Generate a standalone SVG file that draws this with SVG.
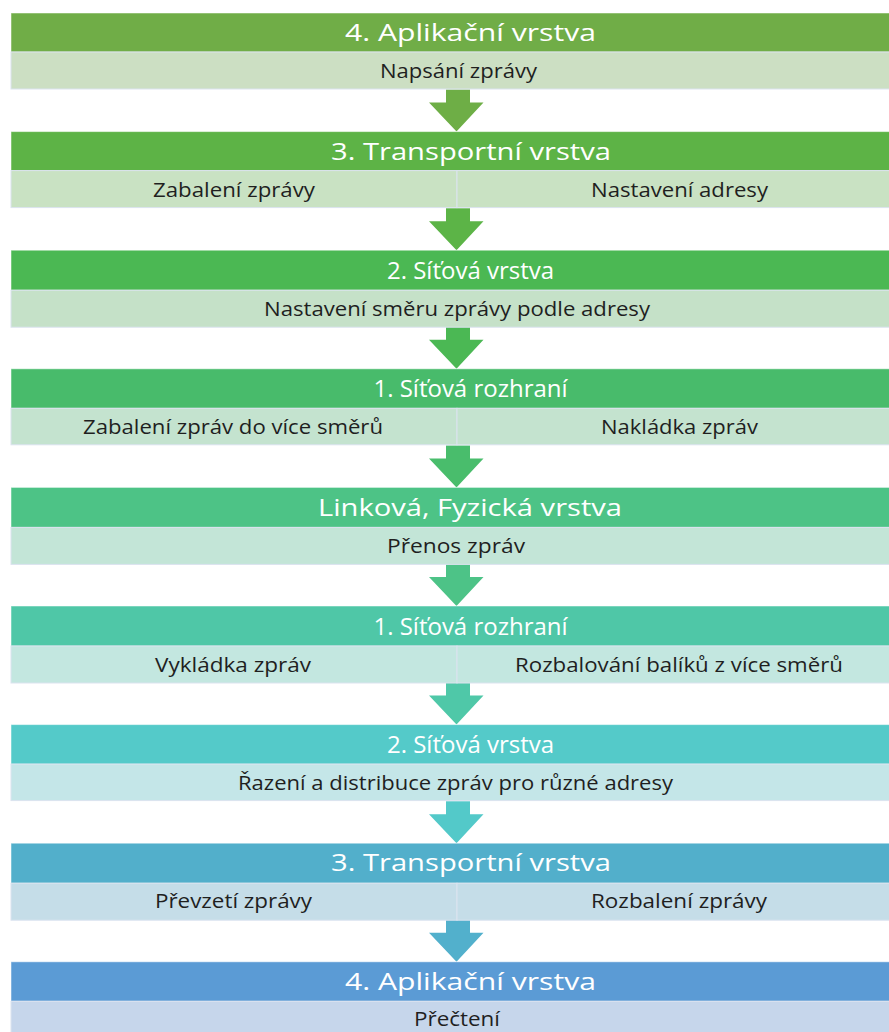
<svg xmlns="http://www.w3.org/2000/svg" width="889" height="1032" viewBox="0 0 889 1032">
  <style>
    .hd { stroke: #ffffff; stroke-opacity: 0.5; stroke-width: 1; }
    .sb { stroke: #dbe3ef; stroke-width: 1; }
    .ht { font-family: "Open Sans", "Noto Sans", sans-serif; font-size: 24px; fill: #ffffff; text-anchor: middle; }
    .st { font-family: "Open Sans", "Noto Sans", sans-serif; font-size: 20px; fill: #1f1f1f; text-anchor: middle; }
  </style>
  <defs>
    <!-- down arrow, tip at (0,0) -->
    <path id="arrow" d="M -10.5 -29 L -10.5 -42 L 13.5 -42 L 13.5 -29 L 27 -29 L 0 0 L -27.5 -29 Z"/>
  </defs>
  <rect width="889" height="1032" fill="#ffffff"/>

  <!-- connectors between layers -->
  <g id="connectors">
    <use href="#arrow" x="456.5" y="131.6" fill="#6eae46"/>
    <use href="#arrow" x="456.5" y="250.2" fill="#5cb447"/>
    <use href="#arrow" x="456.5" y="368.8" fill="#4bb854"/>
    <use href="#arrow" x="456.5" y="487.4" fill="#49bd6c"/>
    <use href="#arrow" x="456.5" y="606" fill="#4dc387"/>
    <use href="#arrow" x="456.5" y="724.6" fill="#4fc8a8"/>
    <use href="#arrow" x="456.5" y="843.2" fill="#53c9c9"/>
    <use href="#arrow" x="456.5" y="961.8" fill="#52b0cc"/>
  </g>

  <g id="layer-app-send">
    <rect class="hd" x="11" y="13" width="920" height="39" fill="#70ad47"/>
    <rect class="sb" x="11" y="52" width="892" height="37" fill="#ccdfc3"/>
    <text class="ht" x="470.5" y="41" textLength="251" lengthAdjust="spacingAndGlyphs">4. Aplikační vrstva</text>
    <text class="st" x="458.5" y="78" textLength="157" lengthAdjust="spacingAndGlyphs">Napsání zprávy</text>
  </g>

  <g id="layer-transport-send">
    <rect class="hd" x="11" y="131.6" width="920" height="39" fill="#5db346"/>
    <rect class="sb" x="11" y="170.6" width="446" height="37" fill="#c9e2c3"/>
    <rect class="sb" x="457" y="170.6" width="446" height="37" fill="#c9e2c3"/>
    <text class="ht" x="471" y="159.6" textLength="280" lengthAdjust="spacingAndGlyphs">3. Transportní vrstva</text>
    <text class="st" x="234" y="196.6" textLength="162" lengthAdjust="spacingAndGlyphs">Zabalení zprávy</text>
    <text class="st" x="679.5" y="196.6" textLength="177" lengthAdjust="spacingAndGlyphs">Nastavení adresy</text>
  </g>

  <g id="layer-network-send">
    <rect class="hd" x="11" y="250.2" width="920" height="40" fill="#4bb853"/>
    <rect class="sb" x="11" y="290.2" width="892" height="37" fill="#c5e1c8"/>
    <text class="ht" x="470.5" y="278.7">2. Síťová vrstva</text>
    <text class="st" x="457" y="315.7" textLength="386" lengthAdjust="spacingAndGlyphs">Nastavení směru zprávy podle adresy</text>
  </g>

  <g id="layer-interface-send">
    <rect class="hd" x="11" y="368.8" width="920" height="39.5" fill="#48bb6b"/>
    <rect class="sb" x="11" y="408.3" width="446" height="36.5" fill="#c4e3cf"/>
    <rect class="sb" x="457" y="408.3" width="446" height="36.5" fill="#c4e3cf"/>
    <text class="ht" x="470.5" y="396.8">1. Síťová rozhraní</text>
    <text class="st" x="233" y="433.8" textLength="300" lengthAdjust="spacingAndGlyphs">Zabalení zpráv do více směrů</text>
    <text class="st" x="679.5" y="433.8" textLength="157" lengthAdjust="spacingAndGlyphs">Nakládka zpráv</text>
  </g>

  <g id="layer-link-physical">
    <rect class="hd" x="11" y="487.4" width="920" height="40" fill="#4dc386"/>
    <rect class="sb" x="11" y="527.4" width="892" height="37" fill="#c3e5d7"/>
    <text class="ht" x="470" y="515.9" textLength="304" lengthAdjust="spacingAndGlyphs">Linková, Fyzická vrstva</text>
    <text class="st" x="456" y="552.9" textLength="138" lengthAdjust="spacingAndGlyphs">Přenos zpráv</text>
  </g>

  <g id="layer-interface-receive">
    <rect class="hd" x="11" y="606" width="920" height="40" fill="#4fc7a7"/>
    <rect class="sb" x="11" y="646" width="446" height="37" fill="#c3e7e0"/>
    <rect class="sb" x="457" y="646" width="446" height="37" fill="#c3e7e0"/>
    <text class="ht" x="470.5" y="634.5">1. Síťová rozhraní</text>
    <text class="st" x="233" y="671.5" textLength="156" lengthAdjust="spacingAndGlyphs">Vykládka zpráv</text>
    <text class="st" x="679" y="671.5" textLength="328" lengthAdjust="spacingAndGlyphs">Rozbalování balíků z více směrů</text>
  </g>

  <g id="layer-network-receive">
    <rect class="hd" x="11" y="724.6" width="920" height="39.5" fill="#54cac9"/>
    <rect class="sb" x="11" y="764.1" width="892" height="36.5" fill="#c4e6e8"/>
    <text class="ht" x="470.5" y="752.6">2. Síťová vrstva</text>
    <text class="st" x="455.5" y="789.6" textLength="435" lengthAdjust="spacingAndGlyphs">Řazení a distribuce zpráv pro různé adresy</text>
  </g>

  <g id="layer-transport-receive">
    <rect class="hd" x="11" y="843.2" width="920" height="40" fill="#52afcb"/>
    <rect class="sb" x="11" y="883.2" width="446" height="37" fill="#c5dde8"/>
    <rect class="sb" x="457" y="883.2" width="446" height="37" fill="#c5dde8"/>
    <text class="ht" x="471" y="871.2" textLength="280" lengthAdjust="spacingAndGlyphs">3. Transportní vrstva</text>
    <text class="st" x="233.5" y="908.2" textLength="157" lengthAdjust="spacingAndGlyphs">Převzetí zprávy</text>
    <text class="st" x="679" y="908.2" textLength="176" lengthAdjust="spacingAndGlyphs">Rozbalení zprávy</text>
  </g>

  <g id="layer-app-receive">
    <rect class="hd" x="11" y="961.8" width="920" height="39.5" fill="#5b9bd5"/>
    <rect class="sb" x="11" y="1001.3" width="892" height="37" fill="#c6d6eb"/>
    <text class="ht" x="470.5" y="989.6" textLength="251" lengthAdjust="spacingAndGlyphs">4. Aplikační vrstva</text>
    <text class="st" x="457" y="1025.5" textLength="86" lengthAdjust="spacingAndGlyphs">Přečtení</text>
  </g>
</svg>
